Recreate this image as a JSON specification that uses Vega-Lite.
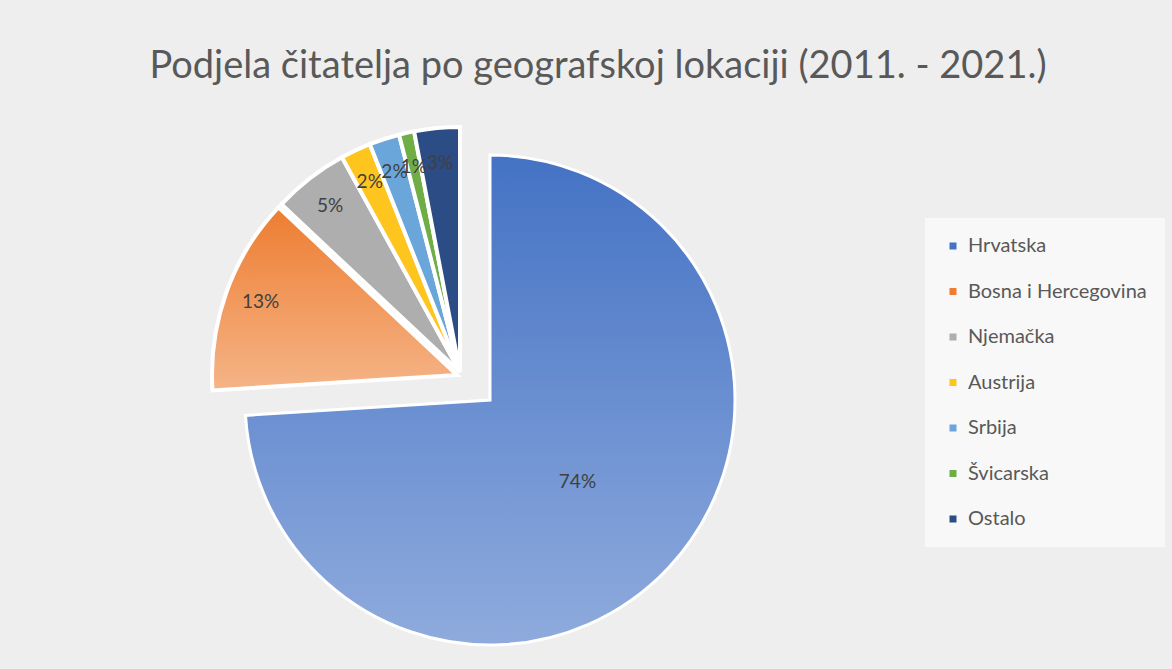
{
  "$schema": "https://vega.github.io/schema/vega-lite/v6.json",
  "autosize": {"type": "none"},
  "width": 960,
  "height": 500,
  "padding": {"left": 10, "top": 150, "right": 202, "bottom": 19},
  "background": "#eeeeee",
  "title": {
    "text": "Podjela čitatelja po geografskoj lokaciji (2011. - 2021.)",
    "font": "Lato",
    "fontSize": 38,
    "fontWeight": "normal",
    "color": "#595959",
    "anchor": "middle",
    "dx": 108,
    "offset": 33
  },
  "data": {
    "values": [
      {"zemlja": "Hrvatska", "udio": 0.74, "n": 1},
      {"zemlja": "Bosna i Hercegovina", "udio": 0.13, "n": 2},
      {"zemlja": "Njemačka", "udio": 0.05, "n": 3},
      {"zemlja": "Austrija", "udio": 0.02, "n": 4},
      {"zemlja": "Srbija", "udio": 0.02, "n": 5},
      {"zemlja": "Švicarska", "udio": 0.01, "n": 6},
      {"zemlja": "Ostalo", "udio": 0.03, "n": 7}
    ]
  },
  "encoding": {
    "theta": {"field": "udio", "type": "quantitative", "stack": true},
    "order": {"field": "n", "type": "quantitative"}
  },
  "layer": [
    {
      "mark": {
        "type": "arc", "radius": 245, "stroke": "#ffffff", "strokeWidth": 3,
        "fill": {"gradient": "linear", "x1": 0, "y1": 0, "x2": 0, "y2": 1, "stops": [{"offset": 0, "color": "#4472c4"}, {"offset": 1, "color": "#8fabdd"}]}
      },
      "encoding": {
        "opacity": {"condition": {"test": "datum.zemlja === 'Hrvatska'", "value": 1}, "value": 0}
      }
    },
    {
      "mark": {
        "type": "arc", "radius": 245, "stroke": "#ffffff", "strokeWidth": 4, "xOffset": -33, "yOffset": -25,
        "fill": {"gradient": "linear", "x1": 0, "y1": 0, "x2": 0, "y2": 1, "stops": [{"offset": 0, "color": "#ed7d31"}, {"offset": 1, "color": "#f5b487"}]}
      },
      "encoding": {
        "opacity": {"condition": {"test": "datum.zemlja === 'Bosna i Hercegovina'", "value": 1}, "value": 0}
      }
    },
    {
      "mark": {"type": "arc", "radius": 245, "stroke": "#ffffff", "strokeWidth": 4, "xOffset": -30, "yOffset": -28},
      "encoding": {
        "color": {
          "field": "zemlja",
          "type": "nominal",
          "sort": ["Hrvatska", "Bosna i Hercegovina", "Njemačka", "Austrija", "Srbija", "Švicarska", "Ostalo"],
          "scale": {
            "domain": ["Hrvatska", "Bosna i Hercegovina", "Njemačka", "Austrija", "Srbija", "Švicarska", "Ostalo"],
            "range": ["#4472c4", "#ed7d31", "#aeaeae", "#ffc51f", "#6ba6da", "#70ad47", "#2b4c84"]
          },
          "legend": {
            "title": null,
            "orient": "none",
            "legendX": 915,
            "legendY": 68,
            "padding": 18,
            "fillColor": "#f8f8f8",
            "symbolType": "square",
            "symbolSize": 49,
            "symbolStrokeWidth": 0,
            "symbolOpacity": 1,
            "labelFont": "Lato",
            "labelFontSize": 20,
            "labelColor": "#595959",
            "labelOffset": 5,
            "labelLimit": 260,
            "rowPadding": 25.5
          }
        },
        "opacity": {"condition": {"test": "datum.zemlja !== 'Hrvatska' && datum.zemlja !== 'Bosna i Hercegovina'", "value": 1}, "value": 0}
      }
    },
    {
      "mark": {"type": "text", "radius": 120, "font": "Lato", "fontSize": 19, "color": "#404040"},
      "encoding": {
        "text": {"field": "udio", "type": "quantitative", "format": ".0%"},
        "opacity": {"condition": {"test": "datum.zemlja === 'Hrvatska'", "value": 1}, "value": 0}
      }
    },
    {
      "mark": {"type": "text", "radius": 212, "font": "Lato", "fontSize": 19, "color": "#404040", "xOffset": -30, "yOffset": -26},
      "encoding": {
        "text": {"field": "udio", "type": "quantitative", "format": ".0%"},
        "opacity": {"condition": {"test": "datum.zemlja !== 'Hrvatska'", "value": 1}, "value": 0}
      }
    }
  ],
  "config": {"view": {"stroke": null}}
}
